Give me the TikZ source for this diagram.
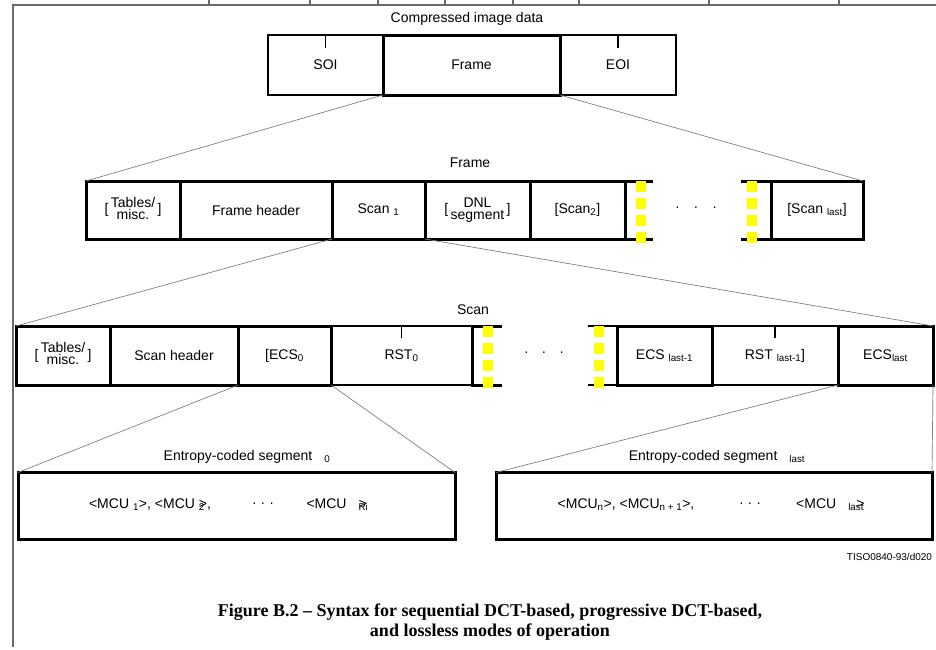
\documentclass[tikz,border=0pt]{standalone}
\usepackage{fontspec}
\setmainfont{Liberation Sans}
\newfontfamily\capfont{Liberation Serif}
\usetikzlibrary{positioning,calc}
\definecolor{markyellow}{HTML}{FFFF00}
\definecolor{fangray}{HTML}{808080}
\definecolor{pagegray}{HTML}{6A6A6A}
\newcommand{\twoline}[2]{\begin{tabular}{@{}c@{}}#1\\[-4pt]#2\end{tabular}}
\tikzset{
  lbl/.style={font=\fontsize{14}{16}\selectfont, inner sep=0pt, outer sep=0pt},
  thinbox/.style={lbl, draw, line width=1.2pt, minimum height=59pt},
  thickbox/.style={thinbox, line width=3pt},
  thickline/.style={line width=3pt},
  thinline/.style={line width=1.2pt},
  fan/.style={fangray, line width=0.7pt},
  gapmark/.style={markyellow, line width=10pt, dash pattern=on 11pt off 6pt},
}

\begin{document}
\begin{tikzpicture}[x=1pt,y=-1pt]
  \useasboundingbox (0,0) rectangle (936,649);
  % Page frame remnants
  \draw[pagegray, line width=2pt] (13,647) -- (13,5) -- (936,5);
  \foreach \tx in {209,310,378,445,513,579,709,839}
    \draw[pagegray, line width=1.5pt] (\tx,0) -- (\tx,5);

  % Compressed image data
  \node[lbl] (title) at (467,19) {Compressed image data};
  \node[thinbox, minimum width=115pt, minimum height=60pt] (soi) at (325.5,65) {SOI};
  \node[thinbox, minimum width=116pt, minimum height=60pt] (eoi) at (618,65) {EOI};
  \node[thickbox, minimum width=177pt, minimum height=60pt] (frame) at (471.5,65) {Frame};
  \draw[thinline] (soi.north) -- ++(0,13);
  \draw[thinline] (eoi.north) -- ++(0,13);

  % Frame
  \node[lbl] (framelbl) at (470,163) {Frame};
  \node[thickbox, minimum width=94pt, minimum height=58pt] (ftab) at (133,210) {[\,\twoline{Tables/}{misc.}\,]};
  \node[thickbox, minimum width=152pt, minimum height=58pt] (fhdr) at (256,210) {Frame header};
  \node[thickbox, minimum width=93pt, minimum height=58pt] (fscan1) at (378.5,210) {Scan \textsubscript{1}};
  \node[thickbox, minimum width=105pt, minimum height=58pt] (fdnl) at (477.5,210) {[\,\twoline{DNL}{segment}\,]};
  \node[thickbox, minimum width=95pt, minimum height=58pt] (fscan2) at (577.5,210) {[Scan\textsubscript{2}]};
  \node[thickbox, minimum width=92pt, minimum height=58pt] (fscanl) at (817,210) {[Scan \textsubscript{last}]};
  \draw[thickline] (fscan2.north east) -- ++(28,0);
  \draw[thickline] (fscan2.south east) -- ++(28,0);
  \draw[thickline] (fscanl.north west) -- ++(-30,0);
  \draw[thickline] (fscanl.south west) -- ++(-30,0);
  \draw[gapmark] ($(fscan2.north east)+(16,0)$) -- ++(0,62);
  \draw[gapmark] ($(fscanl.north west)+(-19.5,0)$) -- ++(0,62);
  \node[lbl] (fdots) at (696,209) {·\hspace{14pt}·\hspace{14pt}·};
  \draw[fan] (frame.south west) -- (ftab.north west);
  \draw[fan] (frame.south east) -- (fscanl.north east);

  % Scan
  \node[lbl] (scanlbl) at (473,310) {Scan};
  \node[thinbox, minimum width=141pt] (srst0) at (401.5,355.5) {RST\textsubscript{0}};
  \node[thinbox, minimum width=126pt] (srstl) at (775,355.5) {RST \textsubscript{last-1}]};
  \node[thickbox, minimum width=94pt] (stab) at (63,355.5) {[\,\twoline{Tables/}{misc.}\,]};
  \node[thickbox, minimum width=128pt] (shdr) at (174,355.5) {Scan header};
  \node[thickbox, minimum width=93pt] (secs0) at (284.5,355.5) {[ECS\textsubscript{0}};
  \node[thickbox, minimum width=95pt] (secsl1) at (664.5,355.5) {ECS \textsubscript{last-1}};
  \node[thickbox, minimum width=95pt] (secsl) at (885.5,355.5) {ECS\textsubscript{last}};
  \draw[thinline] (srst0.north) -- ++(0,12);
  \draw[thinline] (srstl.north) -- ++(0,12);
  \draw[thickline] ($(srst0.north east)+(30,0)$) -- (srst0.north east) -- (srst0.south east) -- ++(30,0);
  \draw[thinline] (secsl1.north west) -- ++(-29,0);
  \draw[thinline] (secsl1.south west) -- ++(-29,0);
  \draw[gapmark] ($(srst0.north east)+(16,0)$) -- ++(0,62);
  \draw[gapmark] ($(secsl1.north west)+(-18,0)$) -- ++(0,62);
  \node[lbl] (sdots) at (544,354) {·\hspace{13pt}·\hspace{13pt}·};
  \draw[fan] (fscan1.south west) -- (stab.north west);
  \draw[fan] (fscan1.south east) -- (secsl.north east);

  % Entropy-coded segments
  \node[lbl] (seg0lbl) at (247,457) {Entropy-coded segment\hspace{12pt}\textsubscript{0}};
  \node[lbl] (segllbl) at (717,457) {Entropy-coded segment\hspace{12pt}\textsubscript{last}};
  \node[thickbox, minimum width=437pt, minimum height=67pt] (seg0) at (236.5,506) {};
  \node[thickbox, minimum width=436pt, minimum height=67pt] (segl) at (714,506) {};
  \node[lbl] (mcua) at (150,505) {<MCU \textsubscript{1}>, <MCU \rlap{\textsubscript{2}}>,};
  \node[lbl] (mcudots) at (263,505) {·\hspace{4pt}·\hspace{4pt}·};
  \node[lbl] (mcuri) at (338,505) {<MCU\hspace{12pt}\rlap{\textsubscript{Ri}}>\hphantom{\textsubscript{i}}};
  \node[lbl] (mcun) at (626,505) {<MCU\textsubscript{n}>, <MCU\textsubscript{n + 1}>,};
  \node[lbl] (mcudots2) at (750,505) {·\hspace{4pt}·\hspace{4pt}·};
  \node[lbl] (mculast) at (832,505) {<MCU\hspace{12pt}\rlap{\textsubscript{last}}\hphantom{\textsubscript{la}}>\hphantom{\textsubscript{t}}};
  \draw[fan] (secs0.south west) -- (seg0.north west);
  \draw[fan] (secs0.south east) -- (seg0.north east);
  \draw[fan] (secsl.south west) -- (segl.north west);
  \draw[fan] (secsl.south east) -- (segl.north east);

  % Figure id and caption
  \node[lbl, font=\fontsize{10}{12}\selectfont, anchor=east] (figid) at (932,557) {TISO0840-93/d020};
  \node[font=\capfont\bfseries\fontsize{18}{20}\selectfont, align=center] (caption) at (490,622)
    {Figure B.2 – Syntax for sequential DCT-based, progressive DCT-based,\\and lossless modes of operation};
\end{tikzpicture}
\end{document}
